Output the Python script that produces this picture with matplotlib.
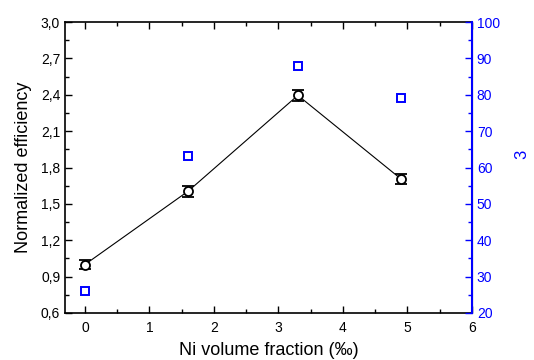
import numpy as np
import matplotlib
matplotlib.use('Agg')
import matplotlib.pyplot as plt
from matplotlib.ticker import MultipleLocator, FuncFormatter

# data
ni_fraction = [0, 1.6, 3.3, 4.9]
efficiency = [1.0, 1.605, 2.395, 1.705]
efficiency_err = [0.04, 0.045, 0.045, 0.045]
right_values = [26, 63.2, 87.8, 79]

plt.rcParams['font.family'] = ['Liberation Sans', 'DejaVu Sans']
blue = '#0000ff'

fig = plt.figure(figsize=(5.34, 3.6), dpi=100)
ax = fig.add_axes([65 / 534, 1 - 313 / 360, (472 - 65) / 534, (313 - 22) / 360])
ax2 = ax.twinx()

ax.errorbar(ni_fraction, efficiency, yerr=efficiency_err, color='black', lw=0.8,
            marker='o', ms=6.5, mfc='white', mec='black', mew=1.3,
            capsize=4.5, capthick=1.0, elinewidth=1.0, zorder=3)
ax2.plot(ni_fraction, right_values, linestyle='none', marker='s', ms=6,
         mfc='white', mec=blue, mew=1.4)

ax.set_xlim(-0.31, 6)
ax.set_ylim(0.6, 3.0)
ax2.set_ylim(20, 100)

ax.xaxis.set_major_locator(MultipleLocator(1))
ax.xaxis.set_minor_locator(MultipleLocator(0.5))
ax.yaxis.set_major_locator(MultipleLocator(0.3))
ax.yaxis.set_minor_locator(MultipleLocator(0.15))
ax.yaxis.set_major_formatter(FuncFormatter(lambda v, p: f'{v:.1f}'.replace('.', ',')))
ax2.yaxis.set_major_locator(MultipleLocator(10))
ax2.yaxis.set_minor_locator(MultipleLocator(5))

ax.tick_params(which='both', direction='in', top=True, right=False, labelsize=10, width=1)
ax.tick_params(which='major', length=5)
ax.tick_params(which='minor', length=3)
ax.tick_params(axis='x', pad=6)
ax2.tick_params(which='both', direction='in', colors=blue, labelsize=10, width=1)
ax2.tick_params(which='major', length=5)
ax2.tick_params(which='minor', length=3)

for side in ['left', 'bottom', 'top']:
    ax.spines[side].set_linewidth(1.2)
ax2.spines['right'].set_color(blue)
ax2.spines['right'].set_linewidth(1.5)
for side in ['left', 'bottom', 'top']:
    ax2.spines[side].set_visible(False)

ax.set_xlabel('Ni volume fraction (‰)', fontsize=13, labelpad=5)
ax.set_ylabel('Normalized efficiency', fontsize=13, labelpad=6)
fig.text(522 / 534, 1 - 154 / 360, '3', color=blue, rotation=90, fontsize=12,
         ha='center', va='center')

fig.savefig('out.png', dpi=100)
